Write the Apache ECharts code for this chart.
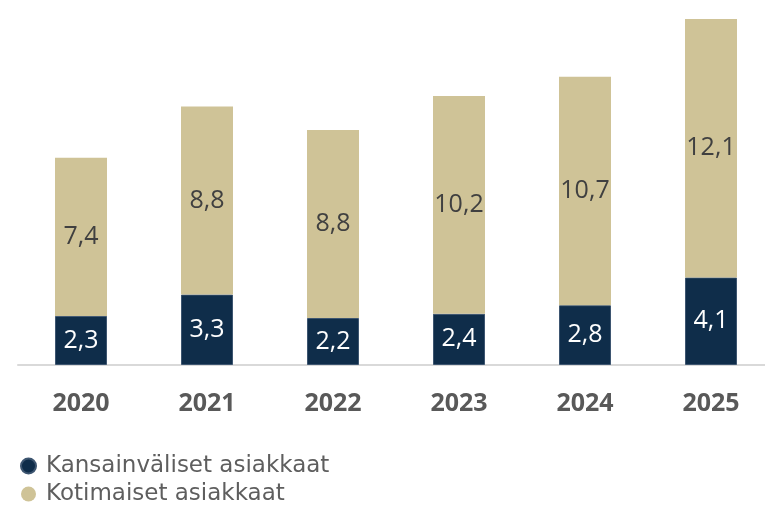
<!DOCTYPE html>
<html><head><meta charset="utf-8">
<script src="https://cdn.jsdelivr.net/npm/echarts@6/dist/echarts.min.js"></script>
<style>html,body{margin:0;padding:0;background:#fff}#c{width:765px;height:511px}</style>
</head><body><div id="c"></div>
<script>
const categories = ['2020','2021','2022','2023','2024','2025'];
const kansainvaliset = [2.3, 3.3, 2.2, 2.4, 2.8, 4.1];
const kotimaiset = [7.4, 8.8, 8.8, 10.2, 10.7, 12.1];
const seriesNames = ['Kansainväliset asiakkaat', 'Kotimaiset asiakkaat'];

const fmt = p => String(p.value).replace('.', ',');
const chart = echarts.init(document.getElementById('c'));
chart.setOption({
  animation: false,
  grid: {left: 18, right: -9, top: 19, bottom: 146, outerBoundsMode: 'none', containLabel: false},
  xAxis: {
    type: 'category', data: categories,
    axisLine: {lineStyle: {color: '#d9d9d9', width: 2}},
    axisTick: {show: false},
    axisLabel: {color: '#595959', fontSize: 25, fontWeight: 'bold', fontFamily: 'Open Sans', margin: 26}
  },
  yAxis: {type: 'value', min: 0, max: 16.2, show: false, splitLine: {show: false}},
  legend: {
    orient: 'vertical', left: 20, top: 453, itemGap: 2, padding: 0,
    icon: 'circle', itemWidth: 15, itemHeight: 15,
    textStyle: {color: '#5e5e5e', fontSize: 23, fontFamily: 'DejaVu Sans', padding: [0, 0, 0, 5], lineHeight: 26},
    data: seriesNames
  },
  series: [
    {
      name: seriesNames[0], type: 'bar', stack: 't', data: kansainvaliset, barWidth: 52,
      itemStyle: {color: '#0f2d4a', borderColor: '#3d5570', borderWidth: 1},
      label: {show: true, position: 'inside', color: '#fff', fontSize: 25, fontFamily: 'Open Sans', formatter: fmt}
    },
    {
      name: seriesNames[1], type: 'bar', stack: 't', data: kotimaiset, barWidth: 52,
      itemStyle: {color: '#cfc397'},
      label: {show: true, position: 'inside', color: '#404040', fontSize: 25, fontFamily: 'Open Sans', formatter: fmt}
    }
  ]
});
</script></body></html>
